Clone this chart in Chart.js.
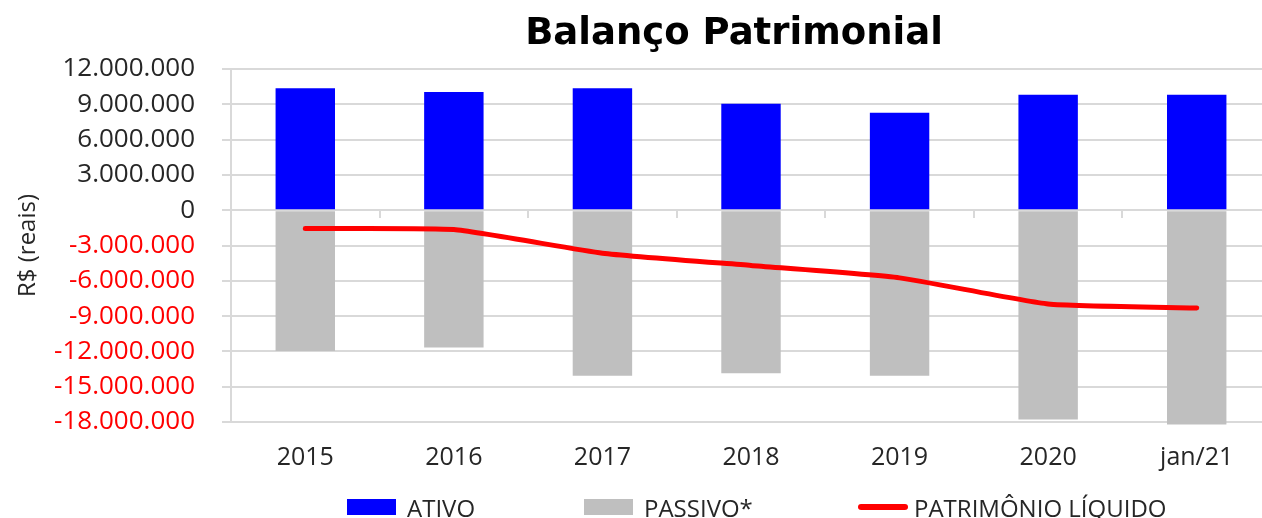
<!DOCTYPE html>
<html lang="pt-BR">
<head>
<meta charset="utf-8">
<title>Balanço Patrimonial</title>
<script src="https://cdn.jsdelivr.net/npm/chart.js@4/dist/chart.umd.min.js"></script>
<style>
    html, body { margin: 0; padding: 0; background: #fff; }
    body { width: 1262px; height: 518px; overflow: hidden; position: relative; }
    #wrap { position: absolute; left: 0; top: 0; width: 1280px; height: 518px; }
    #titulo {
        position: absolute; left: 434px; width: 600px; top: 14px;
        text-align: center; font: bold 37px "DejaVu Sans", sans-serif; line-height: 36px; color: #000;
    }
    #legenda { position: absolute; left: 0; top: 0; width: 1262px; height: 518px; pointer-events: none; }
    .leg-item { position: absolute; top: 492px; height: 30px; display: flex; align-items: center;
        font: 24px "Open Sans", sans-serif; color: #262626; white-space: nowrap; }
    .leg-box { width: 49px; height: 16px; margin-right: 11px; }
    .leg-line { width: 50px; height: 6px; border-radius: 3px; margin-right: 6px; }
</style>
</head>
<body>
<div id="wrap"><canvas id="balanco-chart" width="1280" height="518"></canvas></div>
<div id="titulo">Balanço Patrimonial</div>
<div id="legenda"></div>

<script>
/* ── dados do balanço ── */
const anos = ['2015', '2016', '2017', '2018', '2019', '2020', 'jan/21'];
const ativo = [10360000, 10050000, 10360000, 9050000, 8280000, 9820000, 9820000];
const passivo = [-11960000, -11670000, -14060000, -13860000, -14060000, -17790000, -18220000];
const patrimonio = [-1560000, -1650000, -3650000, -4700000, -5750000, -7970000, -8310000];

const yTicks = { min: -18000000, max: 12000000, step: 3000000 };
const nomes = ['ATIVO', 'PASSIVO*', 'PATRIMÔNIO LÍQUIDO'];

const COR_ATIVO = '#0000ff';
const COR_PASSIVO = '#bfbfbf';
const COR_PL = '#ff0000';
const COR_GRADE = '#d9d9d9';

// 12000000 -> "12.000.000"
function fmtReais(v) {
    const s = Math.abs(v).toFixed(0).replace(/\B(?=(\d{3})+(?!\d))/g, '.');
    return (v < 0 ? '-' : '') + s;
}

const ctx = document.getElementById('balanco-chart').getContext('2d');
const chart = new Chart(ctx, {
    type: 'bar',
    data: {
        labels: anos,
        datasets: [
            { type: 'line', label: nomes[2], data: patrimonio, borderColor: COR_PL, backgroundColor: COR_PL,
              borderWidth: 5, pointRadius: 0, tension: 0.15, borderCapStyle: 'round', borderJoinStyle: 'round', order: 0 },
            { label: nomes[0], data: ativo, backgroundColor: COR_ATIVO, grouped: false, order: 1 },
            // jan/21 passa um pouco do piso do eixo, como no original
            { label: nomes[1], data: passivo, backgroundColor: COR_PASSIVO, grouped: false, order: 1, clip: 6 },
        ],
    },
    options: {
        responsive: false,
        animation: false,
        layout: { padding: { left: 0, right: 9, top: 69, bottom: 24 } },
        datasets: { bar: { barPercentage: 0.4, categoryPercentage: 1 } },
        plugins: {
            legend: { display: false },
            title: { display: false },
            tooltip: { enabled: false },
        },
        scales: {
            x: {
                offset: true,
                grid: { display: false, drawTicks: false },
                border: { display: false },
                ticks: { color: '#262626', font: { family: 'Open Sans', size: 25 }, padding: 21,
                         maxRotation: 0, autoSkip: false },
            },
            x2: {
                type: 'category',
                position: { y: 0 },
                offset: true,
                grid: { offset: true, drawOnChartArea: false, drawTicks: true, tickLength: 8, color: COR_GRADE, lineWidth: 2 },
                border: { display: false },
                ticks: { display: false, autoSkip: false },
            },
            y: {
                min: yTicks.min,
                max: yTicks.max,
                afterFit: s => { s.width = 231; },
                grid: { color: COR_GRADE, lineWidth: 2, tickLength: 9 },
                border: { display: true, color: COR_GRADE, width: 2 },
                ticks: {
                    stepSize: yTicks.step,
                    autoSkip: false,
                    padding: 27,
                    font: { family: 'Open Sans', size: 26 },
                    color: c => (c.tick && c.tick.value < 0 ? '#ff0000' : '#262626'),
                    callback: v => fmtReais(v),
                },
                title: {
                    display: true,
                    text: 'R$ (reais)',
                    color: '#262626',
                    font: { family: 'Open Sans', size: 24, lineHeight: 1 },
                    padding: { top: 16, bottom: 0 },
                },
            },
        },
    },
});

/* ── legenda em HTML ── */
const legendaPos = [347, 584, 858];
const legendaCores = [COR_ATIVO, COR_PASSIVO, COR_PL];
const leg = document.getElementById('legenda');
[1, 2, 0].forEach((dsIdx, i) => {
    const ds = chart.data.datasets[dsIdx];
    const item = document.createElement('div');
    item.className = 'leg-item';
    item.style.left = legendaPos[i] + 'px';
    const marca = document.createElement('span');
    marca.className = ds.type === 'line' ? 'leg-line' : 'leg-box';
    marca.style.background = legendaCores[i];
    const txt = document.createElement('span');
    txt.textContent = ds.label;
    item.appendChild(marca);
    item.appendChild(txt);
    leg.appendChild(item);
});
</script>
</body>
</html>
